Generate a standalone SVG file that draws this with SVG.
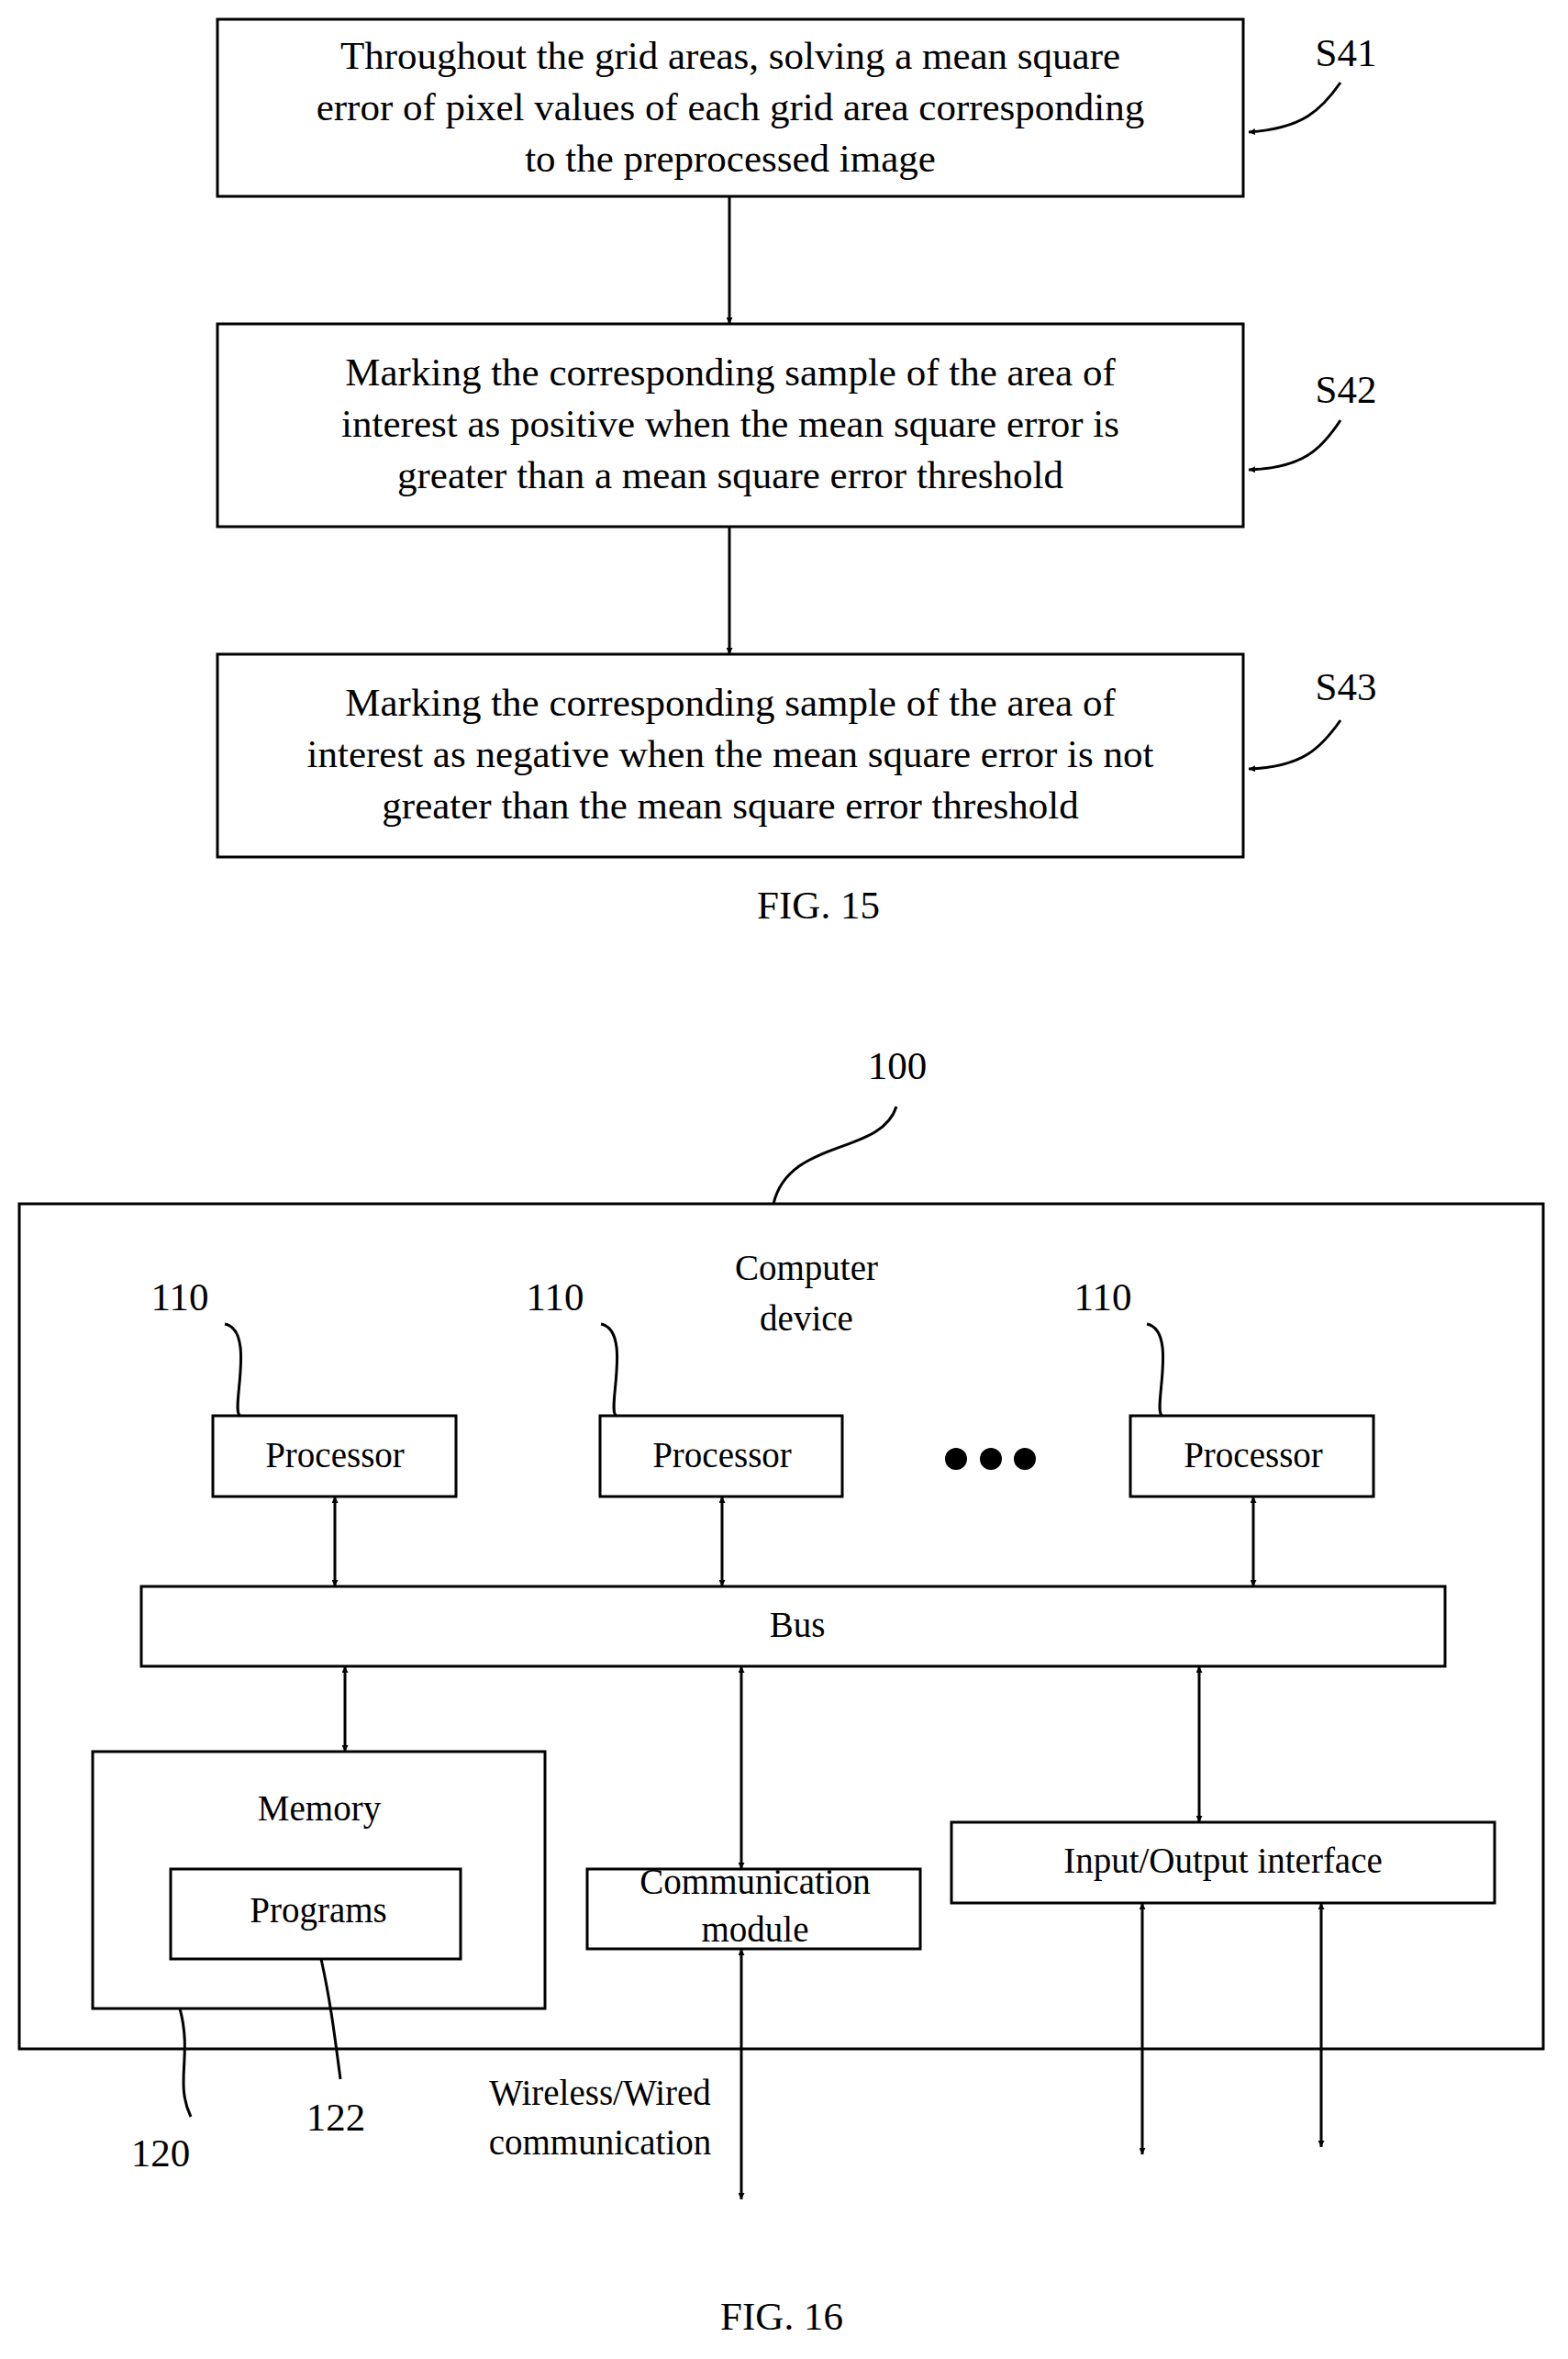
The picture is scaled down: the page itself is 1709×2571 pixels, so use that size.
<svg xmlns="http://www.w3.org/2000/svg" width="1709" height="2571" viewBox="0 0 1709 2571">
<style>
.b{fill:#fff;stroke:#000;stroke-width:3}
text{font-family:"Liberation Serif",serif;fill:#000;text-anchor:middle;dominant-baseline:middle}
.t{font-size:43px}
.s{font-size:39px}
.c line,.c path{stroke:#000;stroke-width:3;fill:none}
</style>
<defs>
<marker id="a" viewBox="0 0 10 10" refX="10" refY="5" markerWidth="7" markerHeight="7" orient="auto-start-reverse" markerUnits="userSpaceOnUse"><path d="M0,0L10,5L0,10z" fill="#000"/></marker>
<marker id="m" viewBox="0 0 10 10" refX="10" refY="5" markerWidth="12" markerHeight="12" orient="auto-start-reverse"><path d="M0,1L10,5L0,9z" fill="#000"/></marker>
</defs>
<rect width="1709" height="2571" fill="#fff"/>
<g id="s41"><rect class="b" x="237" y="21" width="1118" height="193"/><text class="t" x="796" y="65">Throughout the grid areas, solving a mean square</text><text class="t" x="796" y="121">error of pixel values of each grid area corresponding</text><text class="t" x="796" y="177">to the preprocessed image</text><text class="t" x="1467" y="62">S41</text></g>
<g id="s42"><rect class="b" x="237" y="353" width="1118" height="221"/><text class="t" x="796" y="410">Marking the corresponding sample of the area of</text><text class="t" x="796" y="466">interest as positive when the mean square error is</text><text class="t" x="796" y="522">greater than a mean square error threshold</text><text class="t" x="1467" y="429">S42</text></g>
<g id="s43"><rect class="b" x="237" y="713" width="1118" height="221"/><text class="t" x="796" y="770">Marking the corresponding sample of the area of</text><text class="t" x="796" y="826">interest as negative when the mean square error is not</text><text class="t" x="796" y="882">greater than the mean square error threshold</text><text class="t" x="1467" y="753">S43</text></g>
<text class="t" x="892" y="991">FIG. 15</text>
<g id="dev"><rect class="b" x="21" y="1312" width="1661" height="921"/><text class="s" x="879" y="1386">Computer</text><text class="s" x="879" y="1441">device</text><text class="t" x="978" y="1166">100</text></g>
<g id="p1"><rect class="b" x="232" y="1543" width="265" height="88"/><text class="s" x="365" y="1590">Processor</text><text class="t" x="196" y="1418">110</text></g>
<g id="p2"><rect class="b" x="654" y="1543" width="264" height="88"/><text class="s" x="787" y="1590">Processor</text><text class="t" x="605" y="1418">110</text></g>
<g id="p3"><rect class="b" x="1232" y="1543" width="265" height="88"/><text class="s" x="1366" y="1590">Processor</text><text class="t" x="1202" y="1418">110</text></g>
<g id="dots"><circle cx="1042" cy="1590" r="12"/><circle cx="1080" cy="1590" r="12"/><circle cx="1117" cy="1590" r="12"/></g>
<g id="bus"><rect class="b" x="154" y="1729" width="1421" height="87"/><text class="s" x="869" y="1775">Bus</text></g>
<g id="mem"><rect class="b" x="101" y="1909" width="493" height="280"/><text class="s" x="348" y="1975">Memory</text><text class="t" x="175" y="2351">120</text></g>
<g id="prog"><rect class="b" x="186" y="2037" width="316" height="98"/><text class="s" x="347" y="2086">Programs</text><text class="t" x="366" y="2312">122</text></g>
<g id="comm"><rect class="b" x="640" y="2037" width="363" height="87"/><text class="s" x="823" y="2055">Communication</text><text class="s" x="823" y="2107">module</text></g>
<g id="io"><rect class="b" x="1037" y="1986" width="592" height="88"/><text class="s" x="1333" y="2032">Input/Output interface</text></g>
<text class="s" x="654" y="2285">Wireless/Wired</text><text class="s" x="654" y="2339">communication</text>
<text class="t" x="852" y="2529">FIG. 16</text>
<g class="c">
<line x1="795" y1="214" x2="795" y2="353" marker-end="url(#a)"/>
<line x1="795" y1="574" x2="795" y2="713" marker-end="url(#a)"/>
<path d="M1461,90 C1440,120 1420,140 1361,144" marker-end="url(#a)"/>
<path d="M1461,458 C1440,490 1420,510 1361,512" marker-end="url(#a)"/>
<path d="M1461,785 C1440,815 1420,836 1361,838" marker-end="url(#a)"/>
<path d="M977,1206 C960,1260 860,1240 843,1312"/>
<path d="M245,1443 C280,1450 250,1540 262,1543"/>
<path d="M655,1443 C690,1450 660,1540 672,1543"/>
<path d="M1250,1443 C1285,1450 1255,1540 1267,1543"/>
<path d="M196,2189 C210,2240 190,2270 208,2307"/>
<path d="M350,2135 C360,2180 365,2220 371,2266"/>
<line x1="365" y1="1631" x2="365" y2="1729" marker-start="url(#a)" marker-end="url(#a)"/>
<line x1="787" y1="1631" x2="787" y2="1729" marker-start="url(#a)" marker-end="url(#a)"/>
<line x1="1366" y1="1631" x2="1366" y2="1729" marker-start="url(#a)" marker-end="url(#a)"/>
<line x1="376" y1="1816" x2="376" y2="1909" marker-start="url(#a)" marker-end="url(#a)"/>
<line x1="808" y1="1816" x2="808" y2="2037" marker-start="url(#a)" marker-end="url(#a)"/>
<line x1="1307" y1="1816" x2="1307" y2="1986" marker-start="url(#a)" marker-end="url(#a)"/>
<line x1="808" y1="2124" x2="808" y2="2397" marker-start="url(#a)" marker-end="url(#a)"/>
<line x1="1245" y1="2074" x2="1245" y2="2348" marker-start="url(#a)" marker-end="url(#a)"/>
<line x1="1440" y1="2074" x2="1440" y2="2340" marker-start="url(#a)" marker-end="url(#a)"/>
</g>
</svg>
